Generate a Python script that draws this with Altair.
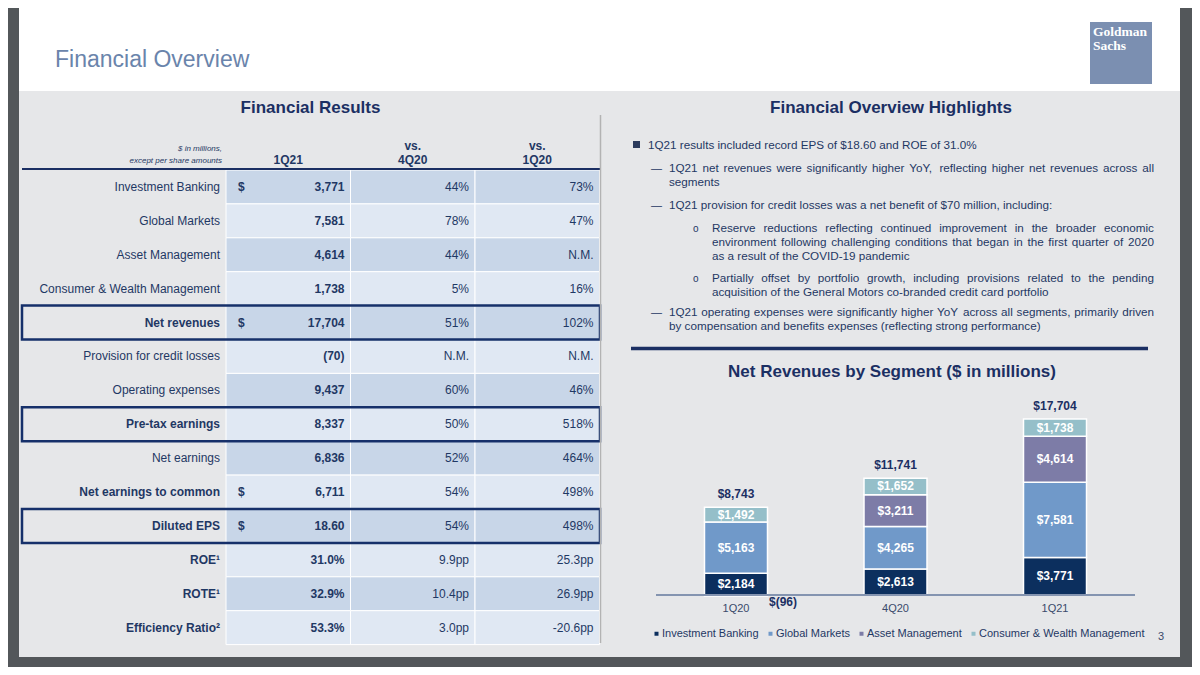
import altair as alt
import pandas as pd

# ---------------- data ----------------
QUARTERS = ["1Q20", "4Q20", "1Q21"]
SEGMENTS = ["Investment Banking", "Global Markets", "Asset Management",
            "Consumer & Wealth Management"]
INVESTMENT_BANKING = [2184, 2613, 3771]
GLOBAL_MARKETS = [5163, 4265, 7581]
ASSET_MANAGEMENT = [-96, 3211, 4614]
CONSUMER_WEALTH = [1492, 1652, 1738]

ROW_LABELS = ["Investment Banking", "Global Markets", "Asset Management",
              "Consumer & Wealth Management", "Net revenues",
              "Provision for credit losses", "Operating expenses",
              "Pre-tax earnings", "Net earnings", "Net earnings to common",
              "Diluted EPS", "ROE¹", "ROTE¹", "Efficiency Ratio²"]
COLUMNS = ["1Q21", "vs. 4Q20", "vs. 1Q20"]
COL_1Q21 = ["3,771", "7,581", "4,614", "1,738", "17,704", "(70)", "9,437",
            "8,337", "6,836", "6,711", "18.60", "31.0%", "32.9%", "53.3%"]
COL_VS_4Q20 = ["44%", "78%", "44%", "5%", "51%", "N.M.", "60%", "50%", "52%",
               "54%", "54%", "9.9pp", "10.4pp", "3.0pp"]
COL_VS_1Q20 = ["73%", "47%", "N.M.", "16%", "102%", "N.M.", "46%", "518%",
               "464%", "498%", "498%", "25.3pp", "26.9pp", "-20.6pp"]
DOLLAR_ROWS = ["Investment Banking", "Net revenues", "Net earnings to common",
               "Diluted EPS"]
BOLD_ROWS = ["Net revenues", "Pre-tax earnings", "Net earnings to common",
             "Diluted EPS", "ROE¹", "ROTE¹", "Efficiency Ratio²"]
BOXED_ROWS = ["Net revenues", "Pre-tax earnings", "Diluted EPS"]

BULLET_LINES = [
    "1Q21 results included record EPS of $18.60 and ROE of 31.0%",
    "1Q21 net revenues were significantly higher YoY, reflecting higher net revenues across all",
    "segments",
    "1Q21 provision for credit losses was a net benefit of $70 million, including:",
    "Reserve reductions reflecting continued improvement in the broader economic",
    "environment following challenging conditions that began in the first quarter of 2020",
    "as a result of the COVID-19 pandemic",
    "Partially offset by portfolio growth, including provisions related to the pending",
    "acquisition of the General Motors co-branded credit card portfolio",
    "1Q21 operating expenses were significantly higher YoY across all segments, primarily driven",
    "by compensation and benefits expenses (reflecting strong performance)",
]
JUSTIFIED = [False, True, False, False, True, True, False, True, False, True, False]

# ---------------- styling ----------------
FONT = "Liberation Sans"
NAVY = "#1b2f63"
TEXT = "#1f3864"
SEG_COLORS = ["#0c2f5e", "#7099c9", "#7d7ca7", "#95bfc9"]
CELL_DARK = "#c8d6e8"
CELL_LIGHT = "#e0e8f3"
OX, OY = 8, 8
BULLET_SIZE = 11.7
JUSTIFY_RIGHT = 1154

# Arial / Liberation Sans advance widths (per 1000 em)
_W = {" ": 278, ",": 278, ".": 278, "-": 333, "(": 333, ")": 333, ":": 278,
      "$": 556, "%": 889, "&": 667}
for _c in "0123456789":
    _W[_c] = 556
_W.update(dict(zip("ABCDEFGHIJKLMNOPQRSTUVWXYZ",
                   [667, 667, 722, 722, 667, 611, 778, 722, 278, 500, 667, 556,
                    833, 722, 778, 667, 778, 722, 667, 611, 722, 667, 944, 667,
                    667, 611])))
_W.update(dict(zip("abcdefghijklmnopqrstuvwxyz",
                   [556, 556, 500, 556, 556, 278, 556, 556, 222, 222, 500, 222,
                    833, 556, 556, 556, 556, 333, 500, 278, 556, 500, 722, 500,
                    500, 500])))


def text_width(s, size):
    return sum(_W.get(c, 556) for c in s) * size / 1000.0


def X(v):
    return v - OX


def Y(v):
    return v - OY


def one():
    return alt.Data(values=[{"k": 0}])


def rect(x1, y1, x2, y2, color):
    return alt.Chart(one()).mark_rect(color=color).encode(
        x=alt.value(X(x1)), x2=alt.value(X(x2)),
        y=alt.value(Y(y1)), y2=alt.value(Y(y2)))


def rule(x1, y1, x2, y2, color, width):
    return alt.Chart(one()).mark_rule(color=color, strokeWidth=width).encode(
        x=alt.value(X(x1)), x2=alt.value(X(x2)),
        y=alt.value(Y(y1)), y2=alt.value(Y(y2)))


def label(text, x, y, size=12, weight="normal", color=TEXT, align="left",
          font=FONT, style="normal"):
    return alt.Chart(one()).mark_text(
        text=text, fontSize=size, fontWeight=weight, color=color, align=align,
        font=font, fontStyle=style, baseline="alphabetic").encode(
        x=alt.value(X(x)), y=alt.value(Y(y)))


layers = []

# slide background
layers.append(rect(19, 0, 1180, 657, "#ffffff"))
layers.append(rect(19, 91, 1180, 657, "#e6e7e9"))

# logo
layers.append(rect(1090, 22, 1152, 84, "#7b8fb1"))
layers.append(label("Goldman", 1093, 36, size=13.5, weight="bold",
                    color="white", font="Liberation Serif"))
layers.append(label("Sachs", 1093, 49.5, size=13.5, weight="bold",
                    color="white", font="Liberation Serif"))

# titles
layers.append(label("Financial Overview", 55, 67, size=23, color="#6a84ab"))
layers.append(label("Financial Results", 310.5, 113, size=17, weight="bold",
                    color=NAVY, align="center"))
layers.append(label("Financial Overview Highlights", 891, 113, size=17,
                    weight="bold", color=NAVY, align="center"))

# ---------------- table ----------------
row_scale = alt.Scale(type="band", domain=ROW_LABELS, range=[Y(170), Y(644.6)],
                      paddingInner=0, paddingOuter=0)
col_scale = alt.Scale(type="band", domain=COLUMNS, range=[X(226), X(599.5)],
                      paddingInner=0, paddingOuter=0)

cells = pd.DataFrame({
    "row": ROW_LABELS * 3,
    "col": [c for c in COLUMNS for _ in ROW_LABELS],
    "text": COL_1Q21 + COL_VS_4Q20 + COL_VS_1Q20,
})
cells["shade"] = ["dark" if ROW_LABELS.index(r) % 2 == 0 else "light"
                  for r in cells["row"]]

layers.append(alt.Chart(cells).mark_rect(stroke="white", strokeWidth=1).encode(
    x=alt.X("col:N", scale=col_scale, axis=None),
    y=alt.Y("row:N", scale=row_scale, axis=None),
    color=alt.Color("shade:N", scale=alt.Scale(domain=["dark", "light"],
                                               range=[CELL_DARK, CELL_LIGHT]),
                    legend=None)))

layers.append(alt.Chart(cells).transform_filter("datum.col == '1Q21'").mark_text(
    align="right", baseline="middle", fontSize=12, fontWeight="bold",
    color=TEXT, font=FONT, dx=-6).encode(
    x=alt.X("col:N", scale=col_scale, axis=None, bandPosition=1),
    y=alt.Y("row:N", scale=row_scale, axis=None, bandPosition=0.5),
    text="text:N"))

layers.append(alt.Chart(cells).transform_filter("datum.col != '1Q21'").mark_text(
    align="right", baseline="middle", fontSize=12, color=TEXT, font=FONT,
    dx=-6).encode(
    x=alt.X("col:N", scale=col_scale, axis=None, bandPosition=1),
    y=alt.Y("row:N", scale=row_scale, axis=None, bandPosition=0.5),
    text="text:N"))

dollars = pd.DataFrame({"row": DOLLAR_ROWS, "col": ["1Q21"] * len(DOLLAR_ROWS)})
layers.append(alt.Chart(dollars).mark_text(
    text="$", align="left", baseline="middle", fontSize=12, fontWeight="bold",
    color=TEXT, font=FONT, dx=12).encode(
    x=alt.X("col:N", scale=col_scale, axis=None, bandPosition=0),
    y=alt.Y("row:N", scale=row_scale, axis=None, bandPosition=0.5)))

rows = pd.DataFrame({"row": ROW_LABELS})
rows["bold"] = [r in BOLD_ROWS for r in ROW_LABELS]
for flag, weight in [(False, "normal"), (True, "bold")]:
    layers.append(alt.Chart(rows).transform_filter(
        "datum.bold" if flag else "!datum.bold").mark_text(
        align="right", baseline="middle", fontSize=12, fontWeight=weight,
        color=TEXT, font=FONT).encode(
        x=alt.value(X(220)),
        y=alt.Y("row:N", scale=row_scale, axis=None, bandPosition=0.5),
        text="row:N"))

boxed = pd.DataFrame({"row": BOXED_ROWS})
layers.append(alt.Chart(boxed).mark_rect(
    fillOpacity=0, stroke="#16306a", strokeWidth=2.5).encode(
    x=alt.value(X(22)), x2=alt.value(X(600)),
    y=alt.Y("row:N", scale=row_scale, axis=None)))

# column headers (two lines: "vs." above the quarter name)
headers = pd.DataFrame({"col": COLUMNS})
headers["top"] = [c.split(" ")[0] if " " in c else "" for c in COLUMNS]
headers["bottom"] = [c.split(" ")[-1] for c in COLUMNS]
for field, base in [("top", 150), ("bottom", 164)]:
    layers.append(alt.Chart(headers).mark_text(
        baseline="alphabetic", align="center", fontSize=12, fontWeight="bold",
        color=TEXT, font=FONT).encode(
        x=alt.X("col:N", scale=col_scale, axis=None, bandPosition=0.5),
        y=alt.value(Y(base)), text=f"{field}:N"))
layers.append(label("$ in millions,", 222, 151, size=8, style="italic",
                    align="right"))
layers.append(label("except per share amounts", 222, 163, size=8,
                    style="italic", align="right"))
layers.append(rule(22, 169, 600, 169, NAVY, 2))
layers.append(rule(600.5, 115, 600.5, 643, "#b3b3b3", 1.5))

# ---------------- highlights (justified text) ----------------
layers.append(rect(633, 141, 640, 148, "#2b3a5c"))
bullet_pos = [(648, 149), (669, 172), (669, 186), (669, 208.5), (712, 232),
              (712, 246), (712, 260), (712, 282), (712, 296), (669, 316),
              (669, 330)]
word_rows = []
for (bx, by), line, just in zip(bullet_pos, BULLET_LINES, JUSTIFIED):
    if just:
        words = line.split(" ")
        widths = [text_width(w, BULLET_SIZE) for w in words]
        gap = (JUSTIFY_RIGHT - bx - sum(widths)) / (len(words) - 1)
        cx = bx
        for w, wd in zip(words, widths):
            word_rows.append({"w": w, "px": X(cx), "py": Y(by)})
            cx += wd + gap
    else:
        word_rows.append({"w": line, "px": X(bx), "py": Y(by)})
words_df = pd.DataFrame(word_rows)
layers.append(alt.Chart(words_df).mark_text(
    align="left", baseline="alphabetic", fontSize=BULLET_SIZE, color=TEXT,
    font=FONT).encode(
    x=alt.X("px:Q", scale=None, axis=None),
    y=alt.Y("py:Q", scale=None, axis=None), text="w:N"))
for by in [172, 208.5, 316]:
    layers.append(label("—", 651, by, size=11))
for by in [232, 282]:
    layers.append(label("o", 693, by, size=10))

layers.append(rule(631, 348.5, 1148, 348.5, NAVY, 3.5))
layers.append(label("Net Revenues by Segment ($ in millions)", 892, 377,
                    size=17, weight="bold", color=NAVY, align="center"))

# ---------------- stacked bars ----------------
bars_df = pd.DataFrame({
    "quarter": QUARTERS * 4,
    "segment": [s for s in SEGMENTS for _ in QUARTERS],
    "value": INVESTMENT_BANKING + GLOBAL_MARKETS + ASSET_MANAGEMENT + CONSUMER_WEALTH,
})
bars_df["order"] = [SEGMENTS.index(s) for s in bars_df["segment"]]

series = list(zip(INVESTMENT_BANKING, GLOBAL_MARKETS, ASSET_MANAGEMENT,
                  CONSUMER_WEALTH))
tot_df = pd.DataFrame({
    "quarter": QUARTERS,
    "total": [sum(v) for v in series],
    "top": [sum(max(x, 0) for x in v) for v in series],
})

x_bar = alt.Scale(type="band", domain=QUARTERS, range=[X(656), X(1135)],
                  paddingInner=0.605, paddingOuter=0.304)
PX_PER_UNIT = 176 / 17704
y_bar = alt.Scale(domain=[0, 20000], range=[Y(595), Y(595) - 20000 * PX_PER_UNIT],
                  nice=False)

layers.append(alt.Chart(bars_df).mark_bar(stroke="white", strokeWidth=1.5).encode(
    x=alt.X("quarter:N", scale=x_bar, axis=None),
    y=alt.Y("value:Q", scale=y_bar, axis=None, stack="zero"),
    color=alt.Color("segment:N",
                    scale=alt.Scale(domain=SEGMENTS, range=SEG_COLORS),
                    legend=alt.Legend(
                        title=None, orient="none", legendX=X(651),
                        legendY=Y(628), direction="horizontal",
                        symbolType="square", symbolSize=16,
                        symbolStrokeWidth=0, labelFont=FONT, labelFontSize=11,
                        labelColor=TEXT, labelOffset=0, columnPadding=6,
                        labelLimit=400, padding=0)),
    order=alt.Order("order:Q")))

layers.append(alt.Chart(bars_df).transform_stack(
    stack="value", groupby=["quarter"], as_=["v0", "v1"],
    sort=[alt.SortField("order")]).transform_filter(
    "datum.value > 0").transform_calculate(
    mid="(datum.v0 + datum.v1) / 2",
    lab="'$' + format(datum.value, ',')").mark_text(
    color="white", fontWeight="bold", fontSize=12, font=FONT,
    baseline="middle", align="center").encode(
    x=alt.X("quarter:N", scale=x_bar, axis=None, bandPosition=0.5),
    y=alt.Y("mid:Q", scale=y_bar, axis=None),
    text="lab:N"))

layers.append(alt.Chart(bars_df).transform_filter(
    "datum.value < 0").transform_calculate(
    lab="'$(' + format(-datum.value, ',') + ')'").mark_text(
    color=NAVY, fontWeight="bold", fontSize=12, font=FONT, baseline="middle",
    align="center", dx=47, dy=6).encode(
    x=alt.X("quarter:N", scale=x_bar, axis=None, bandPosition=0.5),
    y=alt.Y("value:Q", scale=y_bar, axis=None),
    text="lab:N"))

layers.append(alt.Chart(tot_df).transform_calculate(
    lab="'$' + format(datum.total, ',')").mark_text(
    color=NAVY, fontWeight="bold", fontSize=12, font=FONT,
    baseline="alphabetic", align="center", dy=-9).encode(
    x=alt.X("quarter:N", scale=x_bar, axis=None, bandPosition=0.5),
    y=alt.Y("top:Q", scale=y_bar, axis=None),
    text="lab:N"))

layers.append(rule(656, 595, 1135, 595, "#8494b0", 2))

layers.append(alt.Chart(tot_df).mark_text(
    color="#3a4a6b", fontSize=11, font=FONT, baseline="alphabetic",
    align="center").encode(
    x=alt.X("quarter:N", scale=x_bar, axis=None, bandPosition=0.5),
    y=alt.value(Y(612)), text="quarter:N"))

layers.append(label("3", 1161, 640, size=11, color="#3a4a6b", align="center"))

chart = alt.layer(*layers).resolve_scale(
    x="independent", y="independent", color="independent"
).properties(
    width=1184, height=659, autosize=alt.AutoSizeParams(type="none"), padding=0
).configure(background="#53575a").configure_view(strokeWidth=0)

chart.save("out.html", embed_options={"renderer": "svg", "actions": False})
